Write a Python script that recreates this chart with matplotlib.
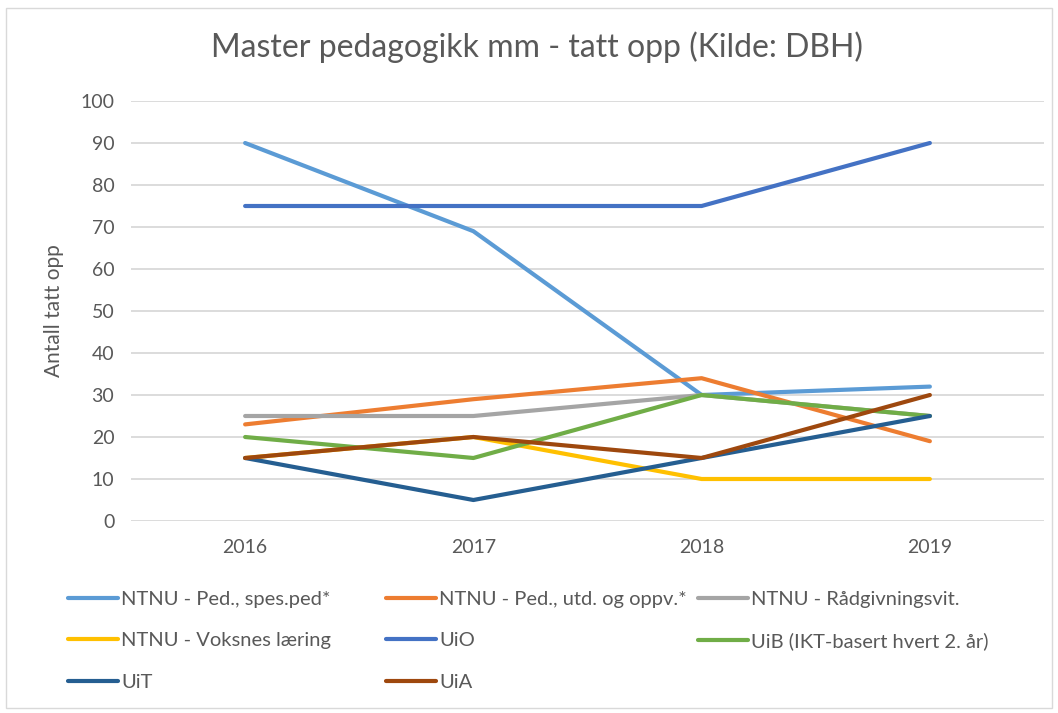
import numpy as np
import matplotlib
matplotlib.use("Agg")
from matplotlib import pyplot as plt
from matplotlib.patches import Rectangle

plt.rcParams['font.family'] = ['Lato', 'DejaVu Sans']

# Data
years = ['2016', '2017', '2018', '2019']
series_names = ['NTNU - Ped., spes.ped*', 'NTNU - Ped., utd. og oppv.*', 'NTNU - Rådgivningsvit.',
                'NTNU - Voksnes læring', 'UiO', 'UiB (IKT-basert hvert 2. år)',
                'UiT', 'UiA']
ntnu_spes = [90, 69, 30, 32]
ntnu_utd = [23, 29, 34, 19]
ntnu_radg = [25, 25, 30, 25]
ntnu_voksne = [15, 20, 10, 10]
uio = [75, 75, 75, 90]
uib = [20, 15, 30, 25]
uit = [15, 5, 15, 25]
uia = [15, 20, 15, 30]
series_values = [ntnu_spes, ntnu_utd, ntnu_radg, ntnu_voksne, uio, uib, uit, uia]
colors = ['#5B9BD5', '#ED7D31', '#A5A5A5', '#FFC000', '#4472C4', '#70AD47', '#255E91', '#9E480E']

text_col = '#595959'

fig = plt.figure(figsize=(10.58, 7.13), dpi=100)
ax = fig.add_axes([131/1058, 1 - 521/713, (1044 - 131)/1058, (521 - 101)/713])

x = np.arange(len(years))
handles = []
for name, vals, c in zip(series_names, series_values, colors):
    h, = ax.plot(x, vals, color=c, linewidth=3, solid_capstyle='round',
                 solid_joinstyle='round', label=name)
    handles.append(h)

ax.set_xlim(-0.5, len(years) - 0.5)
ax.set_ylim(0, 100)
ax.set_yticks(np.arange(0, 101, 10))
ax.set_xticks(x)
ax.set_xticklabels(years)
ax.grid(axis='y', color='#D9D9D9', linewidth=1.3)
ax.set_axisbelow(True)
for s in ax.spines.values():
    s.set_visible(False)
ax.tick_params(axis='both', length=0, labelsize=14, labelcolor=text_col)
ax.tick_params(axis='x', pad=13)
ax.tick_params(axis='y', pad=12)
ax.set_ylabel('Antall tatt opp', fontsize=15, color=text_col, labelpad=12)

fig.text(537/1058, 1 - 47/713, 'Master pedagogikk mm - tatt opp (Kilde: DBH)',
         ha='center', va='center', fontsize=23, color=text_col)

# Legend: three columns, filled row by row as in the original
col_x = [68/1058, 386/1058, 698/1058]
for ci in range(3):
    idx = list(range(ci, len(handles), 3))
    leg = fig.legend([handles[i] for i in idx], [series_names[i] for i in idx],
                     loc='upper left', bbox_to_anchor=(col_x[ci], 1 - 591/713),
                     frameon=False, fontsize=14.5, handlelength=2.5, handletextpad=0.15,
                     labelspacing=1.2, borderpad=0, borderaxespad=0)
    for t in leg.get_texts():
        t.set_color(text_col)

# outer chart border
fig.add_artist(Rectangle((6/1058, 1 - 708/713), 1046/1058, 700/713, transform=fig.transFigure,
                         fill=False, edgecolor='#D9D9D9', linewidth=1))

fig.savefig('out.png', dpi=100)
